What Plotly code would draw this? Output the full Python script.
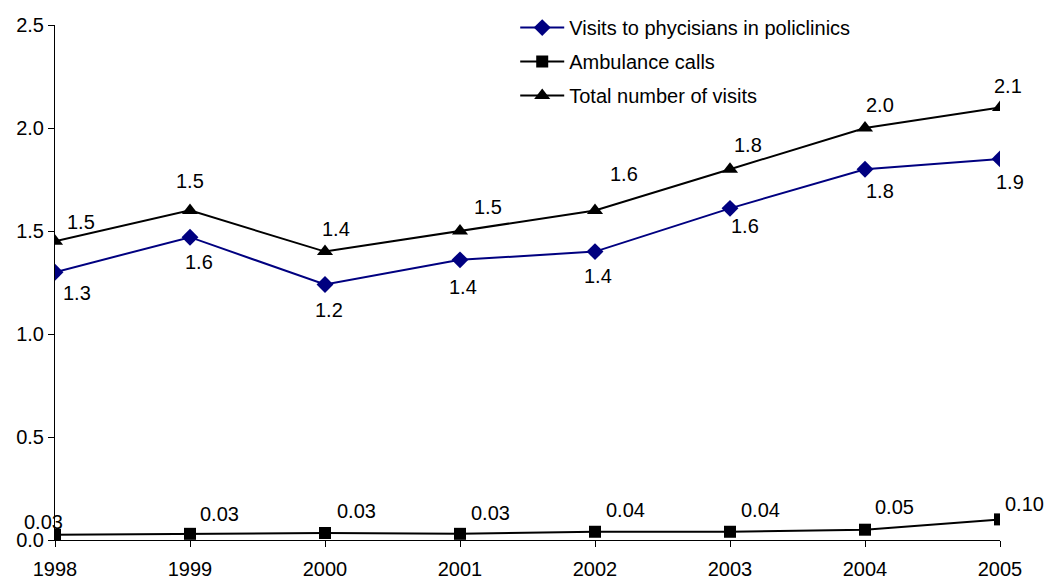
import plotly.graph_objects as go

years = [1998, 1999, 2000, 2001, 2002, 2003, 2004, 2005]
visits = [1.30, 1.47, 1.24, 1.36, 1.40, 1.61, 1.80, 1.85]
ambulance = [0.025, 0.03, 0.034, 0.03, 0.04, 0.04, 0.05, 0.10]
total = [1.45, 1.60, 1.40, 1.50, 1.60, 1.80, 2.00, 2.10]

visits_labels = ["1.3", "1.6", "1.2", "1.4", "1.4", "1.6", "1.8", "1.9"]
ambulance_labels = ["0.03", "0.03", "0.03", "0.03", "0.04", "0.04", "0.05", "0.10"]
total_labels = ["1.5", "1.5", "1.4", "1.5", "1.6", "1.8", "2.0", "2.1"]

y_ticks = [0.0, 0.5, 1.0, 1.5, 2.0, 2.5]
y_tick_text = ["0.0", "0.5", "1.0", "1.5", "2.0", "2.5"]

FONT = "Liberation Sans, Arial, sans-serif"
FS = 20
fig = go.Figure()
fig.add_trace(go.Scatter(x=years, y=visits, mode="lines+markers",
                         name="Visits to phycisians in policlinics",
                         legendgroup="a",
                         line=dict(color="#000080", width=2),
                         marker=dict(symbol="diamond", size=13, color="#000080")))
fig.add_trace(go.Scatter(x=years, y=ambulance, mode="lines+markers",
                         name="Ambulance calls", legendgroup="b",
                         line=dict(color="black", width=2),
                         marker=dict(symbol="square", size=12, color="black")))
fig.add_trace(go.Scatter(x=years, y=total, mode="lines+markers",
                         name="Total number of visits", legendgroup="c",
                         line=dict(color="black", width=2),
                         marker=dict(symbol="triangle-up", size=14, color="black")))

visits_shift = [(22, -21), (9, -25), (4, -25), (3, -27), (3, -24), (15, -18), (15, -22), (10, -23)]
amb_shift = [(-12, 13), (29, 20), (31, 22), (30, 21), (30, 22), (30, 22), (29, 23), (24, 15)]
total_shift = [(26, 19), (0, 29), (11, 23), (28, 24), (29, 36), (18, 24), (15, 23), (8, 21)]

annotations = []
for ys, labs, shifts in [(visits, visits_labels, visits_shift),
                         (ambulance, ambulance_labels, amb_shift),
                         (total, total_labels, total_shift)]:
    for xv, yv, t, (dx, dy) in zip(years, ys, labs, shifts):
        annotations.append(dict(x=xv, y=yv, text=t, showarrow=False,
                                xshift=dx, yshift=dy,
                                font=dict(size=FS, color="black", family=FONT)))

fig.update_layout(
    width=1047, height=580,
    margin=dict(l=55, r=47, t=25, b=40, autoexpand=False),
    paper_bgcolor="white", plot_bgcolor="white",
    font=dict(family=FONT, size=FS, color="black"),
    showlegend=True,
    legend=dict(x=0.487, xref="paper", y=0.986, yref="container",
                xanchor="left", yanchor="top",
                bgcolor="rgba(0,0,0,0)", font=dict(size=FS),
                traceorder="grouped", tracegroupgap=5, itemwidth=44),
    annotations=annotations,
    xaxis=dict(range=[1998, 2005], tickmode="array", tickvals=years,
               ticktext=[str(y) for y in years], automargin=False,
               showgrid=False, zeroline=False, showline=True,
               linecolor="black", linewidth=1, ticks="outside",
               ticklen=6, tickcolor="black", tickfont=dict(size=FS),
               ticklabelstandoff=5),
    yaxis=dict(range=[0, 2.5], tickmode="array", tickvals=y_ticks,
               ticktext=y_tick_text, showgrid=False, zeroline=False,
               automargin=False,
               showline=True, linecolor="black", linewidth=1,
               ticks="outside", ticklen=6, tickcolor="black",
               tickfont=dict(size=FS)),
)

fig.write_html("out.html", config={"displayModeBar": False},
               post_script="document.body.style.margin='0';document.body.style.overflow='hidden';")
